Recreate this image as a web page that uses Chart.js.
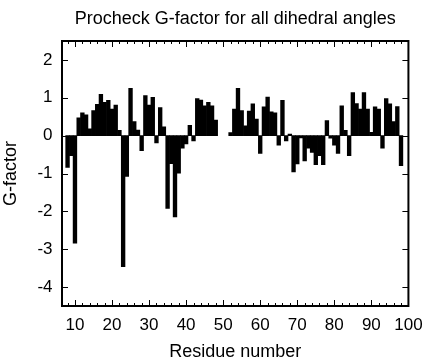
<!DOCTYPE html>
<html>
<head>
<meta charset="utf-8">
<title>Procheck G-factor</title>
<script src="https://cdn.jsdelivr.net/npm/chart.js@4.4.1/dist/chart.umd.min.js"></script>
<style>
    html, body { margin: 0; padding: 0; background: #ffffff; }
    #wrap { width: 432px; height: 360px; }
</style>
</head>
<body>
<div id="wrap"><canvas id="gfactorChart" width="432" height="360"></canvas></div>
<script>
// Residues that have a G-factor (49-51 have none)
const residues = [
     8,  9, 10, 11, 12, 13, 14, 15, 16, 17, 18, 19, 20, 21, 22, 23, 24, 25, 26, 27,
    28, 29, 30, 31, 32, 33, 34, 35, 36, 37, 38, 39, 40, 41, 42, 43, 44, 45, 46, 47, 48,
    52, 53, 54, 55, 56, 57, 58, 59, 60, 61, 62, 63, 64, 65, 66, 67, 68, 69, 70, 71,
    72, 73, 74, 75, 76, 77, 78, 79, 80, 81, 82, 83, 84, 85, 86, 87, 88, 89, 90, 91,
    92, 93, 94, 95, 96, 97, 98
];
const gFactor = [
    -0.84, -0.53, -2.84, 0.47, 0.60, 0.55, 0.18, 0.66, 0.83, 1.09, 0.88, 0.93, 0.70, 0.81, 0.14, -3.46, -1.08, 1.25, 0.37, 0.15,
    -0.40, 1.06, 0.81, 1.01, -0.19, 0.74, 0.23, -1.92, -0.74, -2.15, -0.99, -0.33, -0.22, 0.27, -0.14, 0.98, 0.94, 0.79, 0.88, 0.79, 0.41,
    0.08, 0.70, 1.25, 0.66, 0.26, 0.65, 0.84, 0.44, -0.47, 0.76, 1.02, 0.63, 0.60, -0.25, 0.93, -0.14, 0.04, -0.96, -0.75, -0.06,
    -0.67, -0.33, -0.44, -0.77, -0.53, -0.77, 0.40, -0.07, -0.25, -0.47, 0.79, 0.14, -0.53, 1.14, 0.85, 0.70, 1.14, 0.70, 0.09, 0.76,
    0.70, -0.33, 0.98, 0.84, 0.37, 0.77, -0.79
];
const xTicks = [10, 20, 30, 40, 50, 60, 70, 80, 90, 100];
const yTicks = [-4, -3, -2, -1, 0, 1, 2];

// minor x tics every 2 residues (gnuplot style)
const xMinorTicks = [];
for (let r = 8; r < 100; r += 2) {
    if (r % 10 !== 0) xMinorTicks.push(r);
}

Chart.defaults.font.family = "'Liberation Sans', Arial, Helvetica, sans-serif";
Chart.defaults.color = '#000000';

// Frame around the plot, with tics pointing inwards on all four sides
const frameAndTicks = {
    id: 'frameAndTicks',
    afterDatasetsDraw(chart) {
        const { ctx, chartArea: a, scales: { x, y } } = chart;
        ctx.save();
        ctx.strokeStyle = '#000000';
        ctx.lineWidth = 1;
        ctx.beginPath();
        xTicks.forEach(v => {
            const px = Math.round(x.getPixelForValue(v)) + 0.5;
            ctx.moveTo(px, a.bottom); ctx.lineTo(px, a.bottom - 6);
            ctx.moveTo(px, a.top); ctx.lineTo(px, a.top + 6);
        });
        xMinorTicks.forEach(v => {
            const px = Math.round(x.getPixelForValue(v)) + 0.5;
            ctx.moveTo(px, a.bottom); ctx.lineTo(px, a.bottom - 3);
            ctx.moveTo(px, a.top); ctx.lineTo(px, a.top + 3);
        });
        yTicks.forEach(v => {
            const py = Math.round(y.getPixelForValue(v)) + 0.5;
            ctx.moveTo(a.left, py); ctx.lineTo(a.left + 6, py);
            ctx.moveTo(a.right, py); ctx.lineTo(a.right - 6, py);
        });
        ctx.stroke();
        ctx.lineWidth = 2;
        ctx.strokeRect(a.left, a.top, a.right - a.left, a.bottom - a.top);
        ctx.restore();
    }
};

const ctx = document.getElementById('gfactorChart').getContext('2d');

new Chart(ctx, {
    type: 'bar',
    data: {
        datasets: [{
            label: 'G-factor',
            data: residues.map((r, i) => ({ x: r, y: gFactor[i] })),
            backgroundColor: '#000000',
            borderWidth: 0,
            barPercentage: 1,
            categoryPercentage: 1
        }]
    },
    options: {
        responsive: false,
        animation: false,
        devicePixelRatio: 1,
        layout: { padding: { left: 0, right: 17, top: 0, bottom: 0 } },
        plugins: {
            legend: { display: false },
            tooltip: { enabled: false },
            title: {
                display: true,
                text: 'Procheck G-factor for all dihedral angles',
                fullSize: false,
                color: '#000000',
                font: { size: 18, weight: 'normal', lineHeight: 1.2 },
                padding: { top: 8, bottom: 11.4 }
            }
        },
        scales: {
            x: {
                type: 'linear',
                offset: false,
                min: 6.5,
                max: 100,
                grid: { display: false, drawTicks: false },
                border: { display: false },
                afterFit(scale) { scale.height = 54; },
                afterBuildTicks(scale) { scale.ticks = xTicks.map(v => ({ value: v })); },
                ticks: {
                    includeBounds: false,
                    autoSkip: false,
                    maxRotation: 0,
                    padding: 9.4,
                    font: { size: 17 },
                    color: '#000000'
                },
                title: {
                    display: true,
                    text: 'Residue number',
                    color: '#000000',
                    font: { size: 18, lineHeight: 1 },
                    padding: { top: 0, bottom: -1 }
                }
            },
            y: {
                min: -4.5,
                max: 2.5,
                grid: { display: false, drawTicks: false },
                border: { display: false },
                afterFit(scale) { scale.width = 62; },
                afterBuildTicks(scale) { scale.ticks = yTicks.map(v => ({ value: v })); },
                ticks: {
                    includeBounds: false,
                    padding: 9.5,
                    font: { size: 17 },
                    color: '#000000'
                },
                title: {
                    display: true,
                    text: 'G-factor',
                    color: '#000000',
                    font: { size: 18, lineHeight: 1 },
                    padding: { top: 1.8, bottom: 0 }
                }
            }
        }
    },
    plugins: [frameAndTicks]
});
</script>
</body>
</html>
